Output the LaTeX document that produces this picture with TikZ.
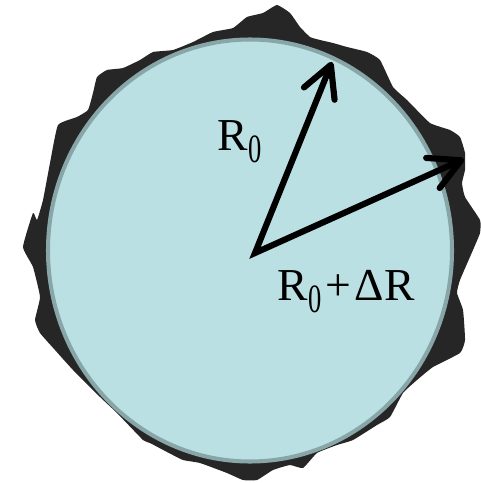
\documentclass[tikz,border=0pt]{standalone}
\usepackage{graphicx}
\usepackage{fontspec}
\setmainfont{Liberation Serif}
\usetikzlibrary{arrows.meta}

\definecolor{crust}{HTML}{262626}
\definecolor{core}{HTML}{BBE0E3}
\definecolor{coreedge}{HTML}{88A6A8}

\newcommand{\sub}[1]{\kern0.5pt\raisebox{-0.28em}{\scalebox{0.58}[0.88]{#1}}}

\begin{document}
\begin{tikzpicture}[x=0.02cm,y=-0.02cm,
  barb/.tip={Straight Barb[length=6.2mm,width=6.6mm,round]},
  radius arrow/.style={line width=3.5pt, line join=miter, barb-barb},
  lbl/.style={font=\fontsize{26}{26}\selectfont, inner sep=0pt, anchor=base west}]
\useasboundingbox (0,0) rectangle (480,483);

% Rough outer layer
\fill[crust] plot[smooth cycle, tension=0.25] coordinates {
  (23,247) (33,213) (37,220) (43,200) (50,163) (58,125) (77,117) (88,110)
  (93,93) (97,77) (107,70) (123,68) (140,60) (153,52) (173,50) (193,42)
  (213,32) (233,28) (247,17) (263,13) (277,5) (290,13) (300,27) (310,37)
  (320,40) (333,43) (347,47) (367,52) (380,60) (393,87) (407,100) (430,123)
  (450,130) (460,137) (465,153) (465,170) (462,183) (465,197) (480,220)
  (480,233) (473,250) (460,280) (457,293) (463,310) (465,340) (460,353)
  (433,367) (417,380) (403,393) (390,417) (377,425) (353,440) (337,445)
  (317,453) (303,468) (290,465) (273,470) (257,480) (243,480) (227,473)
  (200,463) (183,460) (167,452) (150,443) (143,440) (117,413) (100,397)
  (73,370) (55,350) (40,333) (35,320) (40,297) (33,267)};

% Core circle
\draw[coreedge, fill=core, line width=2.3pt] (250,250.5) ellipse [x radius=202, y radius=211];

% Radii
\coordinate (O) at (255,253);
\coordinate (A) at (332,62);
\coordinate (B) at (464,159);
\draw[radius arrow] (A) -- (O) -- (B);

% Labels
\node[lbl] (r0) at (217,150) {R\sub{0}};
\node[lbl] (r1) at (277,300) {R\sub{0}\kern2pt+\kern2ptΔR};

\end{tikzpicture}
\end{document}
